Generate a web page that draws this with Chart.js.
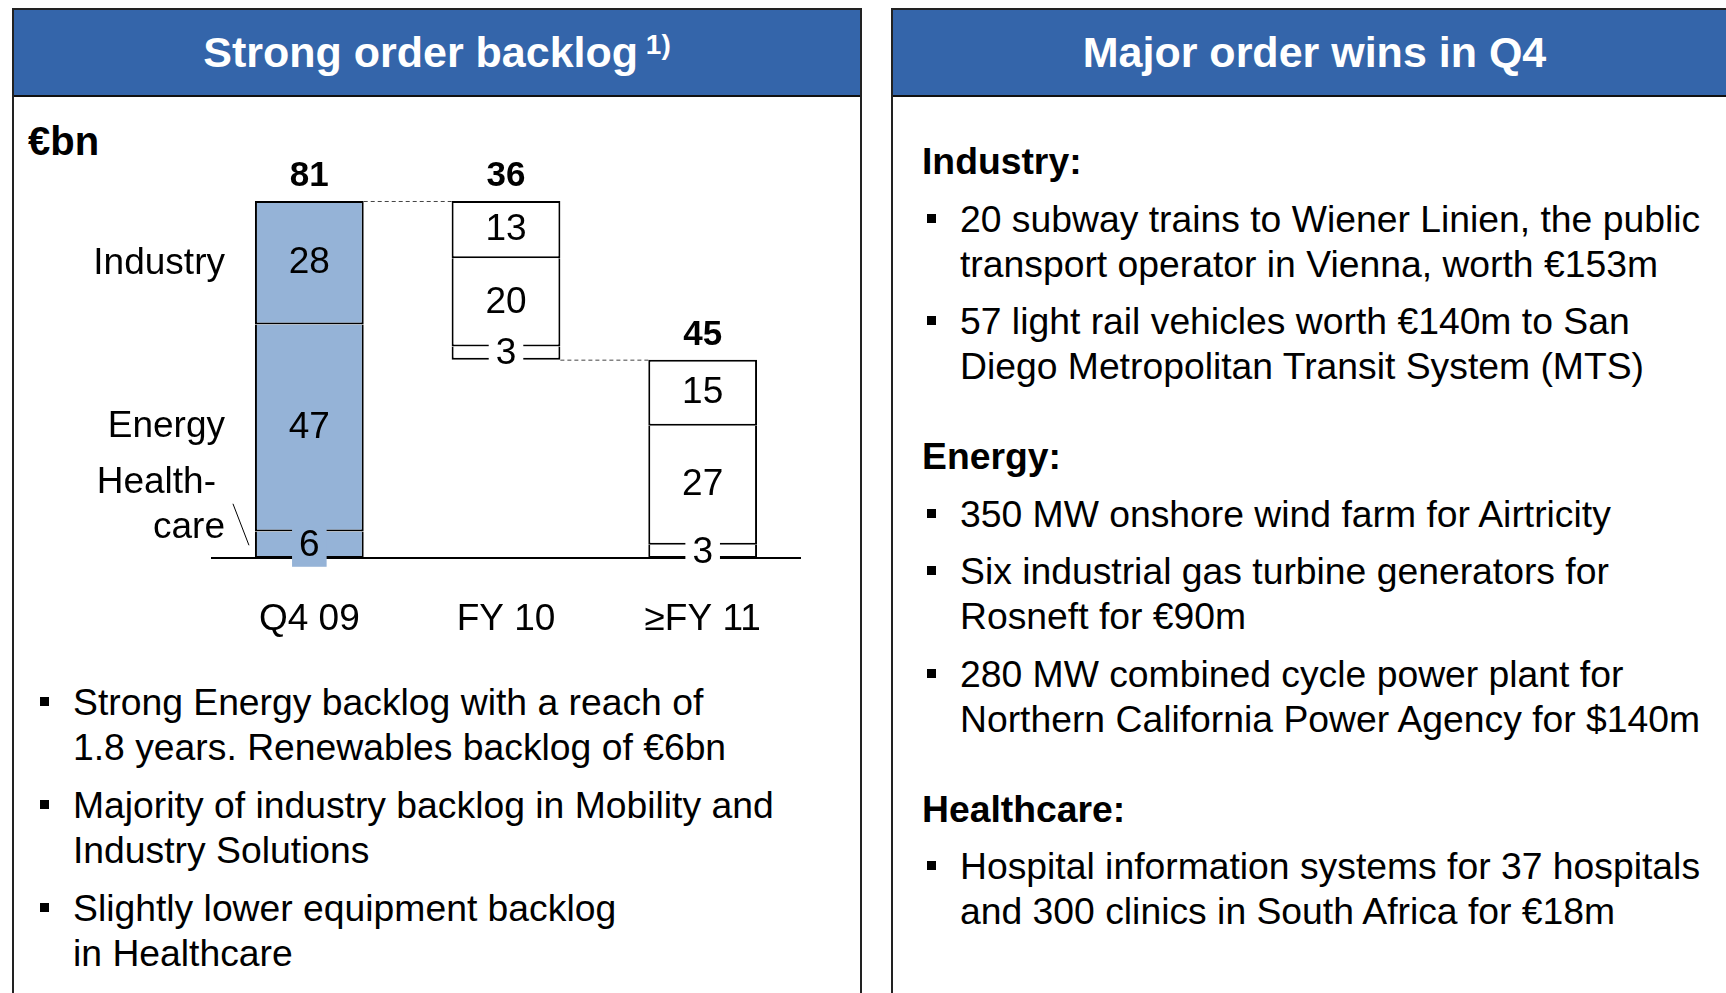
<!DOCTYPE html>
<html>
<head>
<meta charset="utf-8">
<title>Strong order backlog</title>
<script src="https://cdn.jsdelivr.net/npm/chart.js@4.4.1/dist/chart.umd.min.js"></script>
<style>
  html, body { margin: 0; padding: 0; background: #fff; }
  body {
    width: 1726px; height: 993px; position: relative; overflow: hidden;
    font-family: "Liberation Sans", Arial, sans-serif; color: #000;
  }
  .panel {
    position: absolute; top: 8px; height: 1010px;
    border: 2px solid #222; border-bottom: none; box-sizing: border-box;
  }
  .panel-left { left: 12px; width: 850px; }
  .panel-right { left: 891px; width: 847px; }
  .head {
    height: 85px; background: #3465AA; border-bottom: 2px solid #111;
    color: #fff; font-weight: bold; font-size: 43px; line-height: 43px;
    display: flex; align-items: center; justify-content: center; white-space: nowrap;
  }
  .sup { font-size: 28px; line-height: 0; position: relative; top: -13px; }
  .unit { position: absolute; left: 28px; top: 121px; font-size: 40px; line-height: 40px; font-weight: bold; }
  #backlogChart { position: absolute; left: 0; top: 100px; }
  .bl { position: absolute; font-size: 37.3px; line-height: 45px; white-space: nowrap; }
  .bl p { margin: 13px 0 0 0; position: relative; }
  .bl p:first-child { margin-top: 0; }
  .bl p::before {
    content: ""; position: absolute; left: -33px; top: 17px;
    width: 9px; height: 9px; background: #000;
  }
  .left-bullets { left: 73px; top: 680px; }
  .rcol { left: 922px; top: 139px; }
  .rcol .h { font-weight: bold; margin-top: 45px; }
  .rcol .h:first-child { margin-top: 0; }
  .rcol p { margin: 12.5px 0 0 38px; }
</style>
</head>
<body>
<div class="panel panel-left">
  <div class="head"><span>Strong order backlog<span class="sup">&nbsp;1)</span></span></div>
</div>
<div class="panel panel-right">
  <div class="head">Major order wins in Q4</div>
</div>

<div class="unit">€bn</div>
<canvas id="backlogChart" width="870" height="560"></canvas>

<div class="bl left-bullets">
  <p>Strong Energy backlog with a reach of<br>1.8 years. Renewables backlog of €6bn</p>
  <p>Majority of industry backlog in Mobility and<br>Industry Solutions</p>
  <p>Slightly lower equipment backlog<br>in Healthcare</p>
</div>

<div class="bl rcol">
  <div class="h">Industry:</div>
  <p>20 subway trains to Wiener Linien, the public<br>transport operator in Vienna, worth €153m</p>
  <p>57 light rail vehicles worth €140m to San<br>Diego Metropolitan Transit System (MTS)</p>
  <div class="h">Energy:</div>
  <p>350 MW onshore wind farm for Airtricity</p>
  <p>Six industrial gas turbine generators for<br>Rosneft for €90m</p>
  <p>280 MW combined cycle power plant for<br>Northern California Power Agency for $140m</p>
  <div class="h">Healthcare:</div>
  <p>Hospital information systems for 37 hospitals<br>and 300 clinics in South Africa for €18m</p>
</div>

<script>
var categories = ['Q4 09', 'FY 10', '\u2265FY 11'];
var industry = [28, 13, 15];
var energy = [47, 20, 27];
var healthcare = [6, 3, 3];
var sideLabels = ['Industry', 'Energy', 'Health-', 'care'];

var totals = categories.map(function (c, i) { return industry[i] + energy[i] + healthcare[i]; });
// FY 10 floats on top of the later backlog
var offsets = [0, totals[0] - totals[1], 0];

var fills = ['#95B3D7', '#FFFFFF', '#FFFFFF'];
var font = '"Liberation Sans", Arial, sans-serif';

var backlogLabels = {
    id: 'backlogLabels',
    afterDatasetsDraw: function (chart) {
        var ctx = chart.ctx;
        var area = chart.chartArea;
        var yScale = chart.scales.y;
        var zeroY = yScale.getPixelForValue(0);
        var hc = chart.getDatasetMeta(1).data;
        var en = chart.getDatasetMeta(2).data;
        var ind = chart.getDatasetMeta(3).data;

        ctx.save();
        // baseline
        ctx.strokeStyle = '#000';
        ctx.lineWidth = 2;
        ctx.beginPath();
        ctx.moveTo(area.left, zeroY);
        ctx.lineTo(area.right, zeroY);
        ctx.stroke();

        // dashed connectors between bars
        ctx.setLineDash([4, 3]);
        ctx.lineWidth = 1;
        ctx.strokeStyle = '#444';
        for (var i = 0; i < categories.length - 1; i++) {
            var lvl = yScale.getPixelForValue(offsets[i + 1] + totals[i + 1]);
            ctx.beginPath();
            ctx.moveTo(ind[i].x + ind[i].width / 2, lvl + 0.5);
            ctx.lineTo(ind[i + 1].x - ind[i + 1].width / 2, lvl + 0.5);
            ctx.stroke();
        }
        ctx.setLineDash([]);

        ctx.fillStyle = '#000';
        ctx.textAlign = 'center';
        ctx.textBaseline = 'middle';
        ctx.font = '37px ' + font;
        [en, ind].forEach(function (bars, k) {
            var vals = k === 0 ? energy : industry;
            bars.forEach(function (b, j) {
                ctx.fillText(String(vals[j]), b.x, (b.y + b.base) / 2);
            });
        });

        // healthcare values sit on a knock-out box
        hc.forEach(function (b, j) {
            var cy = (b.y + b.base) / 2;
            var w = ctx.measureText(String(healthcare[j])).width + 14;
            ctx.fillStyle = fills[j];
            ctx.fillRect(b.x - w / 2, cy - 17, w, 39);
            ctx.fillStyle = '#000';
            ctx.fillText(String(healthcare[j]), b.x, cy + 1);
        });

        // totals
        ctx.font = 'bold 35px ' + font;
        ctx.textBaseline = 'alphabetic';
        ind.forEach(function (b, j) {
            ctx.fillText(String(totals[j]), b.x, b.y - 15);
        });

        // category labels
        ctx.font = '37px ' + font;
        ind.forEach(function (b, j) {
            ctx.fillText(categories[j], b.x, zeroY + 72);
        });

        // segment names left of the first bar
        var left = ind[0].x - ind[0].width / 2;
        var hcMid = (hc[0].y + hc[0].base) / 2;
        ctx.textAlign = 'right';
        ctx.textBaseline = 'middle';
        ctx.fillText(sideLabels[0], left - 30, (ind[0].y + ind[0].base) / 2 + 1);
        ctx.fillText(sideLabels[1], left - 30, (en[0].y + en[0].base) / 2 - 1);
        ctx.fillText(sideLabels[2], left - 39, hcMid - 62);
        ctx.fillText(sideLabels[3], left - 30, hcMid - 17);
        ctx.lineWidth = 1;
        ctx.strokeStyle = '#000';
        ctx.beginPath();
        ctx.moveTo(left - 22, hcMid - 41);
        ctx.lineTo(left - 6, hcMid + 0.5);
        ctx.stroke();
        ctx.restore();
    }
};

var segStyle = { borderColor: '#000', borderWidth: 2, backgroundColor: fills };

var backlogChart = new Chart(document.getElementById('backlogChart').getContext('2d'), {
    type: 'bar',
    data: {
        labels: categories,
        datasets: [
            { label: 'base', data: offsets, backgroundColor: 'rgba(0,0,0,0)', borderWidth: 0 },
            Object.assign({ label: 'Healthcare', data: healthcare, borderSkipped: 'end' }, segStyle),
            Object.assign({ label: 'Energy', data: energy, borderSkipped: 'end' }, segStyle),
            Object.assign({ label: 'Industry', data: industry, borderSkipped: false }, segStyle)
        ]
    },
    options: {
        responsive: false,
        animation: false,
        devicePixelRatio: 1,
        events: [],
        layout: { padding: { left: 211, right: 69, top: 61.33, bottom: 102 } },
        datasets: { bar: { categoryPercentage: 1, barPercentage: 0.553 } },
        plugins: { legend: { display: false }, tooltip: { enabled: false } },
        scales: {
            x: { stacked: true, display: false },
            y: { stacked: true, display: false, min: 0, max: 90 }
        }
    },
    plugins: [backlogLabels]
});
</script>
</body>
</html>
